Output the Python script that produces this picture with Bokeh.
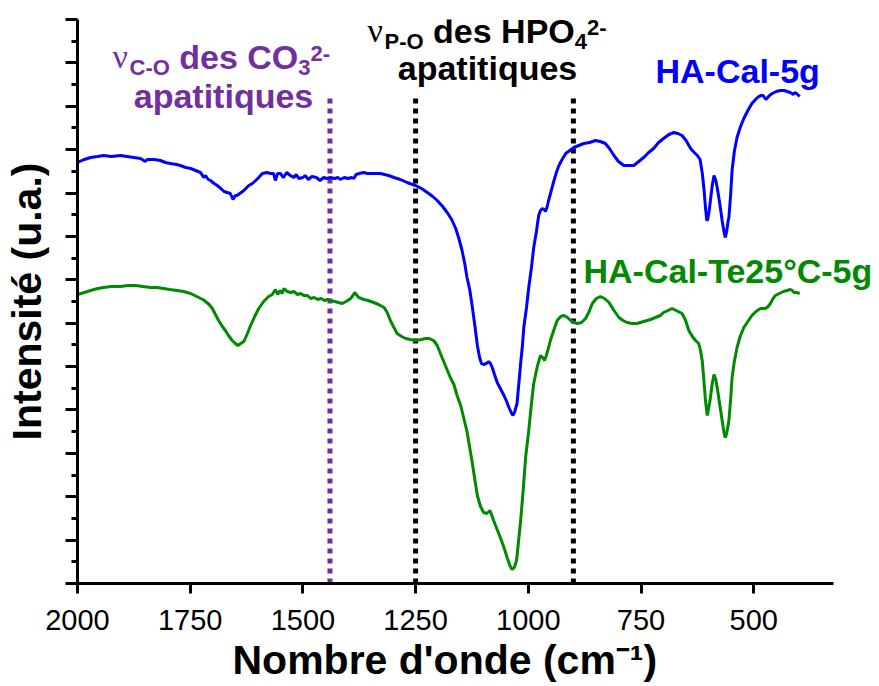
from bokeh.plotting import figure
from bokeh.models import Range1d, FixedTicker, Label, CustomJSTickFormatter, Title
from bokeh.embed import file_html
from bokeh.resources import INLINE

# ---------------- data ----------------
wn_blue = [2000, 1985, 1971, 1955, 1942, 1925, 1905, 1890, 1875, 1860, 1850, 1845, 1830, 1816, 1805, 1794,
           1780, 1772, 1760, 1749, 1738, 1727, 1720, 1716, 1710, 1705, 1697, 1690, 1682, 1675, 1668, 1661,
           1655, 1650, 1646, 1640, 1631, 1620, 1612, 1600, 1590, 1580, 1572, 1565, 1561, 1556, 1550, 1543,
           1536, 1528, 1520, 1515, 1509, 1500, 1495, 1488, 1480, 1470, 1462, 1454, 1447, 1439, 1430, 1422,
           1417, 1408, 1400, 1392, 1387, 1382, 1375, 1365, 1357, 1345, 1328, 1310, 1298, 1284, 1269, 1250,
           1237, 1224, 1212, 1202, 1190, 1180, 1170, 1161, 1154, 1147, 1141, 1136, 1130, 1124, 1118, 1113,
           1108, 1104, 1099, 1093, 1088, 1084, 1080, 1075, 1069, 1062, 1054, 1048, 1043, 1038, 1034, 1030,
           1025, 1021, 1017, 1013, 1010, 1004, 999, 993, 988, 982, 977, 973, 969, 965, 962, 958, 955, 949,
           943, 937, 932, 925, 917, 908, 899, 888, 877, 864, 851, 840, 829, 820, 810, 800, 788, 777, 766,
           755, 744, 733, 722, 711, 700, 688, 677, 668, 659, 650, 640, 632, 625, 619, 614, 610, 607, 604,
           602, 599, 596, 592, 588, 584, 581, 576, 570, 566, 563, 560, 557, 555, 551, 548, 543, 537, 530,
           522, 513, 504, 496, 489, 483, 479, 476, 473, 469, 465, 459, 450, 441, 432, 426, 419, 415, 412,
           409, 405, 398]
int_blue = [421, 424, 426, 427, 428, 427, 428, 427, 426, 425, 422, 424, 424, 423, 421, 420,
            419, 418, 416, 415, 413, 411, 406, 408, 404, 403, 400, 398, 395, 392, 391, 390,
            384, 388, 388, 390, 393, 398, 400, 405, 410, 411, 410, 410, 403, 410, 410, 406,
            411, 408, 406, 409, 405, 406, 408, 404, 407, 406, 403, 406, 405, 406, 405, 406,
            404, 406, 405, 406, 405, 409, 410, 411, 410, 410, 410, 408, 406, 404, 401, 398,
            395, 391, 387, 383, 377, 371, 364, 355, 345, 333, 320, 306, 294, 276, 256, 238,
            226, 220, 219, 220, 222, 220, 216, 209, 201, 195, 188, 182, 176, 171, 168, 172,
            180, 200, 220, 238, 256, 276, 296, 316, 336, 352, 368, 373, 375, 374, 372, 377, 383, 393,
            403, 412, 418, 424, 430, 433, 436, 438, 440, 441, 443, 442, 440, 435, 428, 422, 418, 418, 418,
            422, 426, 431, 435, 441, 445, 449, 451, 450, 448, 443, 435, 431, 428, 424, 410, 393, 376, 363,
            364, 372, 383, 398, 408, 403, 396, 382, 363, 352, 346, 352, 362, 366, 390, 413, 432, 446, 456,
            465, 473, 480, 484, 487, 488, 488, 486, 484, 486, 488, 490, 492, 493, 493, 492, 491, 490, 489,
            491, 490, 487]

wn_green = [2000, 1985, 1971, 1955, 1942, 1925, 1905, 1888, 1871, 1855, 1838, 1824, 1809, 1795, 1779, 1765,
            1749, 1740, 1731, 1722, 1716, 1708, 1701, 1694, 1687, 1680, 1672, 1665, 1657, 1650, 1644, 1638,
            1631, 1624, 1616, 1607, 1598, 1587, 1576, 1568, 1561, 1556, 1551, 1546, 1542, 1535, 1527, 1520,
            1512, 1505, 1498, 1490, 1483, 1475, 1467, 1460, 1452, 1445, 1439, 1430, 1421, 1413, 1404, 1394,
            1389, 1385, 1380, 1376, 1365, 1355, 1343, 1332, 1320, 1313, 1306, 1298, 1291, 1281, 1272, 1262,
            1250, 1237, 1228, 1220, 1210, 1202, 1195, 1184, 1173, 1165, 1158, 1150, 1143, 1136, 1130, 1124,
            1118, 1113, 1106, 1099, 1092, 1087, 1085, 1080, 1077, 1070, 1062, 1054, 1047, 1041, 1036, 1031,
            1026, 1021, 1017, 1011, 1006, 999, 993, 988, 980, 973, 968, 964, 960, 955, 951, 943, 936, 928,
            921, 913, 906, 898, 891, 882, 873, 865, 858, 849, 840, 831, 821, 810, 799, 790, 781, 770, 759,
            744, 729, 718, 707, 700, 690, 681, 672, 659, 651, 644, 636, 629, 622, 618, 614, 611, 607, 603,
            600, 596, 592, 588, 584, 580, 575, 570, 566, 563, 560, 555, 551, 548, 543, 537, 530, 522, 513,
            504, 495, 485, 474, 468, 463, 457, 452, 443, 434, 426, 419, 414, 411, 405, 398]
int_green = [289, 291, 293, 295, 296, 297, 297, 298, 298, 297, 296, 296, 295, 294, 293, 292,
             290, 288, 286, 284, 282, 279, 275, 269, 263, 258, 253, 248, 243, 240, 238, 240,
             242, 249, 258, 267, 275, 282, 287, 289, 294, 289, 293, 290, 295, 292, 291, 292,
             289, 290, 288, 288, 285, 286, 284, 285, 283, 284, 283, 282, 281, 280, 282, 285,
             288, 291, 288, 286, 284, 283, 281, 279, 276, 271, 263, 256, 250, 247, 245, 244,
             243, 244, 245, 245, 243, 238, 230, 218, 206, 199, 188, 178, 165, 152, 136, 120,
             102, 88, 77, 71, 70, 72, 73, 67, 63, 55, 46, 36, 26, 18, 14, 16,
             23, 45, 63, 95, 126, 153, 180, 200, 217, 228, 226, 223, 228, 236, 243, 254, 263, 267,
             268, 266, 263, 261, 260, 261, 265, 272, 280, 285, 287, 285, 281, 273, 266, 263, 261, 260, 260,
             262, 264, 266, 268, 271, 273, 275, 273, 270, 263, 253, 247, 243, 240, 233, 222, 206, 183, 168,
             175, 186, 200, 209, 204, 193, 178, 163, 151, 146, 150, 163, 185, 206, 222, 236, 247, 256, 262,
             268, 272, 275, 275, 277, 280, 285, 288, 290, 292, 293, 294, 293, 291, 291, 290]

band_wn = [1440, 1250, 900]          # dotted reference lines
band_top = [489, 489, 489]
band_colors = ["#7030A0", "black", "black"]

x_ticks = [2000, 1750, 1500, 1250, 1000, 750, 500]
x_min, x_max = 323, 2000
y_max = 564
n_major_y = 13

BLUE = "#0000FF"
GREEN = "#008A00"
PURPLE = "#7030A0"
SANS = "Liberation Sans"
SERIF = "Liberation Serif"

# frame: left edge at px 77, axis end at px 833, frame continues to the canvas edge (879)
x_right = x_max - (x_max - x_min) * (879 - 77) / 756.0

# ---------------- figure ----------------
p = figure(width=879, height=686, output_backend="svg", toolbar_location=None,
           x_range=Range1d(x_max, x_right), y_range=Range1d(0, y_max),
           min_border_left=77, min_border_right=0, min_border_top=19, min_border_bottom=103)
p.outline_line_color = None
p.xgrid.visible = False
p.ygrid.visible = False
p.background_fill_color = "white"
p.border_fill_color = "white"

# x axis
xa = p.xaxis[0]
xa.bounds = (x_min, x_max)
xa.ticker = FixedTicker(ticks=x_ticks, minor_ticks=[])
xa.axis_line_width = 3
xa.axis_line_color = "black"
xa.major_tick_line_width = 3
xa.major_tick_out = 10
xa.major_tick_in = 0
xa.minor_tick_out = 0
xa.minor_tick_in = 0
xa.major_label_text_font = SANS
xa.major_label_text_font_size = "29px"
xa.major_label_text_color = "black"
xa.major_label_standoff = 16

# y axis
step = y_max / n_major_y
ya = p.yaxis[0]
ya.ticker = FixedTicker(ticks=[i * step for i in range(n_major_y + 1)],
                        minor_ticks=[(i + 0.5) * step for i in range(n_major_y)])
ya.formatter = CustomJSTickFormatter(code="return ''")
ya.axis_line_width = 3
ya.axis_line_color = "black"
ya.major_tick_line_width = 3
ya.minor_tick_line_width = 3
ya.major_tick_out = 12
ya.major_tick_in = 0
ya.minor_tick_out = 6
ya.minor_tick_in = 0
ya.major_label_standoff = 0
ya.axis_label = "Intensité (u.a.)"
ya.axis_label_text_font = SANS
ya.axis_label_text_font_size = "41px"
ya.axis_label_text_font_style = "bold"
ya.axis_label_text_color = "black"
ya.axis_label_standoff = 16

# x axis title (with superscript) as a title below the axis
p.add_layout(Title(text="Nombre d'onde (cm⁻¹)", align="left", offset=155,
                   text_font=SANS, text_font_size="41px", text_font_style="bold",
                   text_color="black", standoff=4), "below")

# dotted lines
for w, top, c in zip(band_wn, band_top, band_colors):
    p.segment(x0=[w], y0=[0], x1=[w], y1=[top], line_color=c, line_width=5,
              line_dash="5 5", line_cap="butt")

# spectra
p.line(wn_blue, int_blue, line_color=BLUE, line_width=3)
p.line(wn_green, int_green, line_color=GREEN, line_width=3)

# ---------------- text helpers ----------------
def X(px):
    return x_max - (x_max - x_min) * (px - 77) / 756.0

def Y(py):
    return 583 - py

BOLD_W = {' ': 278, "'": 238, '(': 333, ')': 333, '-': 333, '.': 278, '°': 400,
          'A': 722, 'C': 722, 'H': 722, 'N': 722, 'O': 778, 'P': 667, 'T': 611,
          'a': 556, 'b': 611, 'c': 556, 'd': 611, 'e': 556, 'g': 611, 'i': 278, 'l': 278,
          'm': 889, 'n': 611, 'o': 611, 'p': 611, 'q': 611, 'r': 389, 's': 556, 't': 333,
          'u': 611, 'é': 556}

def tw(text, size, font):
    if font != SANS:
        return 0.5 * size * len(text)
    return sum(BOLD_W.get(ch, 556) for ch in text) * size / 1000.0

def lab(text, px, base_py, size, font, style, color, align="left"):
    # place by baseline: the label is anchored at the middle of its text box
    mid = base_py - 0.345 * size
    p.add_layout(Label(x=X(px), y=Y(mid), text=text, text_font=font,
                       text_font_size=f"{size}px", text_font_style=style,
                       text_color=color, text_align=align, text_baseline="middle"))

def rich(parts, px, py, color):
    cur = px
    for text, size, font, style, dy in parts:
        lead = len(text) - len(text.lstrip(" "))
        cur += lead * 278 * size / 1000.0
        t = text.lstrip(" ")
        lab(t, cur, py + dy, size, font, style, color)
        cur += tw(t, size, font)

# annotations
rich([("ν", 34, SERIF, "normal", 0), ("C-O", 22, SANS, "bold", 7),
      (" des CO", 34, SANS, "bold", 0), ("3", 22, SANS, "bold", 7), ("2-", 22, SANS, "bold", -7)],
     112, 68, PURPLE)
lab("apatitiques", 223, 107, 34, SANS, "bold", PURPLE, align="center")

rich([("ν", 34, SERIF, "normal", 0), ("P-O", 22, SANS, "bold", 7),
      (" des HPO", 34, SANS, "bold", 0), ("4", 22, SANS, "bold", 7), ("2-", 22, SANS, "bold", -7)],
     367, 42, "black")
lab("apatitiques", 487, 79, 34, SANS, "bold", "black", align="center")

lab("HA-Cal-5g", 655, 82, 34, SANS, "bold", BLUE)
lab("HA-Cal-Te25°C-5g", 583, 282, 34, SANS, "bold", GREEN)

open("out.html", "w").write(file_html(p, INLINE))
